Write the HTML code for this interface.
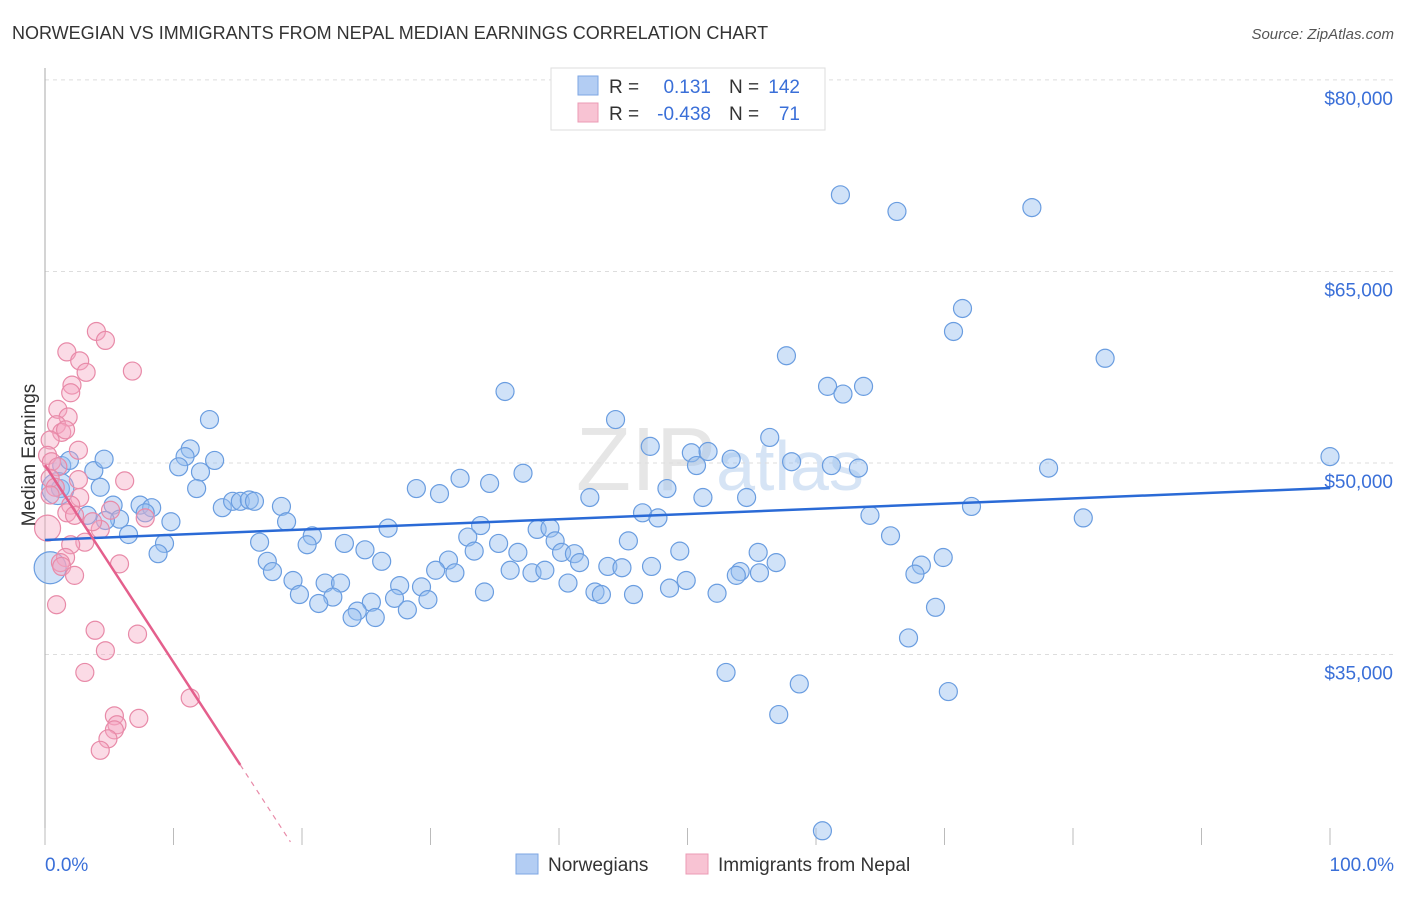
<!DOCTYPE html>
<html><head><meta charset="utf-8"><style>
body{margin:0;background:#fff;font-family:"Liberation Sans",sans-serif}
svg text{font-family:"Liberation Sans",sans-serif}
</style></head><body>
<svg width="1406" height="892" viewBox="0 0 1406 892">
<text x="12" y="39" font-size="18" fill="#333">NORWEGIAN VS IMMIGRANTS FROM NEPAL MEDIAN EARNINGS CORRELATION CHART</text>
<text x="1394" y="39" font-size="15" fill="#555" font-style="italic" text-anchor="end">Source: ZipAtlas.com</text>
<text x="720" y="490" font-size="90" fill="#e6e6e6" text-anchor="middle" font-family="Liberation Serif">ZIP<tspan fill="#d6e4f5" font-family="Liberation Sans" font-size="70">atlas</tspan></text>
<g id="grid"></g>
<g id="axes"></g>
<g id="marks"></g>
<text transform="translate(35,455) rotate(-90)" font-size="19" fill="#333" text-anchor="middle">Median Earnings</text>
<g>
<rect x="551" y="68" width="274" height="62" fill="#fff" stroke="#ddd"/>
<rect x="578" y="76" width="20" height="19" fill="#b3cdf3" stroke="#7ea6e3"/>
<rect x="578" y="103" width="20" height="19" fill="#f8c3d3" stroke="#eb9bb5"/>
<text x="609" y="93" font-size="19" fill="#333">R =</text>
<text x="711" y="93" font-size="19" fill="#3a6fd8" text-anchor="end">0.131</text>
<text x="729" y="93" font-size="19" fill="#333">N =</text>
<text x="800" y="93" font-size="19" fill="#3a6fd8" text-anchor="end">142</text>
<text x="609" y="120" font-size="19" fill="#333">R =</text>
<text x="711" y="120" font-size="19" fill="#3a6fd8" text-anchor="end">-0.438</text>
<text x="729" y="120" font-size="19" fill="#333">N =</text>
<text x="800" y="120" font-size="19" fill="#3a6fd8" text-anchor="end">71</text>
</g>
<g>
<rect x="516" y="854" width="22" height="20" fill="#b3cdf3" stroke="#7ea6e3"/>
<text x="548" y="871" font-size="19" fill="#333">Norwegians</text>
<rect x="686" y="854" width="22" height="20" fill="#f8c3d3" stroke="#eb9bb5"/>
<text x="718" y="871" font-size="19" fill="#333">Immigrants from Nepal</text>
</g>
<text x="45" y="871" font-size="19" fill="#3a6fd8">0.0%</text>
<text x="1394" y="871" font-size="19" fill="#3a6fd8" text-anchor="end">100.0%</text>
</svg>
<script>
const yTicks=[35000,50000,65000,80000];
const yTickLabels=["$35,000","$50,000","$65,000","$80,000"];
const xTicks=[0,10,20,30,40,50,60,70,80,90,100];
const blueX=[61.9,66.3,76.8,71.4,70.7,57.7,82.5,60.9,63.7,62.1,35.8,44.4,12.8,56.4,47.1,11.3,10.9,13.2,50.3,51.6,50.7,53.4,58.1,61.2,63.3,78.1,100,10.4,12.1,3.8,37.2,32.3,34.6,4.3,11.8,28.9,30.7,48.4,42.4,51.2,54.6,5.3,7.4,8.3,7.8,13.8,14.6,15.2,15.9,16.3,18.4,18.8,72.1,80.8,64.2,46.5,47.7,3.3,5.8,4.7,6.5,9.8,26.7,33.9,32.9,38.3,39.3,39.7,20.8,20.4,16.7,23.3,9.3,35.3,45.4,65.8,8.8,24.9,33.4,36.8,40.2,41.2,49.4,55.5,69.9,17.3,26.2,31.4,41.6,43.8,47.2,56.9,68.2,17.7,30.4,31.9,36.2,37.9,38.9,44.9,54.1,53.8,55.6,67.7,19.3,21.8,23.0,49.9,40.7,27.6,29.3,48.6,19.8,22.4,34.2,42.8,43.3,45.8,52.3,21.3,25.4,27.2,29.8,28.2,24.3,23.9,25.7,69.3,67.2,53.0,58.7,70.3,57.1,60.5,1.3,1.9,4.6,1.2];
const blueY=[71.0,69.7,70.0,62.1,60.3,58.4,58.2,56.0,56.0,55.4,55.6,53.4,53.4,52.0,51.3,51.1,50.5,50.2,50.8,50.9,49.8,50.3,50.1,49.8,49.6,49.6,50.5,49.7,49.3,49.4,49.2,48.8,48.4,48.1,48.0,48.0,47.6,48.0,47.3,47.3,47.3,46.7,46.7,46.5,46.1,46.5,47.0,47.0,47.1,47.0,46.6,45.4,46.6,45.7,45.9,46.1,45.7,45.9,45.6,45.5,44.4,45.4,44.9,45.1,44.2,44.8,44.9,43.9,44.3,43.6,43.8,43.7,43.7,43.7,43.9,44.3,42.9,43.2,43.1,43.0,43.0,42.9,43.1,43.0,42.6,42.3,42.3,42.4,42.2,41.9,41.9,42.2,42.0,41.5,41.6,41.4,41.6,41.4,41.6,41.8,41.5,41.2,41.4,41.3,40.8,40.6,40.6,40.8,40.6,40.4,40.3,40.2,39.7,39.5,39.9,39.9,39.7,39.7,39.8,39.0,39.1,39.4,39.3,38.5,38.4,37.9,37.9,38.7,36.3,33.6,32.7,32.1,30.3,21.2,49.8,50.2,50.3,48.0];
const pinkX=[4.0,4.7,1.7,2.7,3.2,6.8,2.1,2.0,1.0,1.8,0.9,1.3,1.6,0.4,2.6,0.2,0.5,1.0,0.4,0.8,0.4,2.6,2.7,2.0,1.7,2.3,6.2,5.1,7.8,4.3,3.7,3.1,2.0,1.6,1.2,1.3,2.3,5.8,0.9,3.9,7.2,4.7,3.1,11.3,5.4,5.6,5.4,7.3,4.9,4.3];
const pinkY=[60.3,59.6,58.7,58.0,57.1,57.2,56.1,55.5,54.2,53.6,53.0,52.4,52.6,51.8,51.0,50.6,50.1,49.7,48.8,48.1,47.5,48.7,47.3,46.7,46.1,45.9,48.6,46.3,45.7,44.8,45.4,43.8,43.6,42.6,42.2,41.9,41.2,42.1,38.9,36.9,36.6,35.3,33.6,31.6,30.2,29.5,29.1,30.0,28.4,27.5];
const bigBlue=[[0.4,41.8],[1.0,48.0]];
const bigPink=[[0.2,44.9]];
const blueTrend=[43.97,48.04];
const pinkTrend=[49.84,-1.545];
const pinkSolidEnd=15.2, pinkDashEnd=19.1;

const NS="http://www.w3.org/2000/svg";
const X=v=>45+v*12.85;
const Y=v=>463-(v-50)*12.77;
function mk(t,a,p){const e=document.createElementNS(NS,t);for(const k in a)e.setAttribute(k,a[k]);p.appendChild(e);return e;}
const grid=document.getElementById('grid'),axes=document.getElementById('axes'),marks=document.getElementById('marks');
yTicks.forEach((t,i)=>{const y=Y(t/1000);
const l=mk('line',{x1:45,x2:1394,y1:y,y2:y,stroke:'#ddd','stroke-dasharray':'4,4'},grid);


const tx=mk('text',{x:1393,y:y+25,'font-size':19,fill:'#3a6fd8','text-anchor':'end'},grid);tx.textContent=yTickLabels[i];

});
const ax=mk('line',{x1:45,x2:45,y1:68,y2:845,stroke:'#aaa'},axes);


xTicks.forEach(t=>{const tk=mk('line',{x1:X(t),x2:X(t),y1:828,y2:845,stroke:'#bbb'},axes);

});
function dot(x,y,r,c){const e=mk('circle',{cx:X(x),cy:Y(y),r:r,fill:c[0],stroke:c[1],'stroke-width':1.2},marks);return e;}
const BC=['rgba(150,190,240,0.45)','#6a9de0'],PC=['rgba(245,165,192,0.4)','#e88aa8'];
blueX.forEach((x,i)=>{const d=dot(x,blueY[i],9,BC);

});
bigBlue.forEach(p=>{const d=dot(p[0],p[1],16,BC);

});
pinkX.forEach((x,i)=>{const d=dot(x,pinkY[i],9,PC);

});
bigPink.forEach(p=>{const d=dot(p[0],p[1],13,PC);

});
const bt=mk('line',{x1:X(0),y1:Y(blueTrend[0]),x2:X(100),y2:Y(blueTrend[1]),stroke:'#2a6ad6','stroke-width':2.5},marks);


const pf=x=>pinkTrend[0]+pinkTrend[1]*x;
const pt=mk('line',{x1:X(0),y1:Y(pf(0)),x2:X(pinkSolidEnd),y2:Y(pf(pinkSolidEnd)),stroke:'#e45f8c','stroke-width':2.5},marks);


const pd=mk('line',{x1:X(pinkSolidEnd),y1:Y(pf(pinkSolidEnd)),x2:X(pinkDashEnd),y2:Y(pf(pinkDashEnd)),stroke:'#e88aa8','stroke-width':1.2,'stroke-dasharray':'5,5'},marks);


</script>
</body></html>
